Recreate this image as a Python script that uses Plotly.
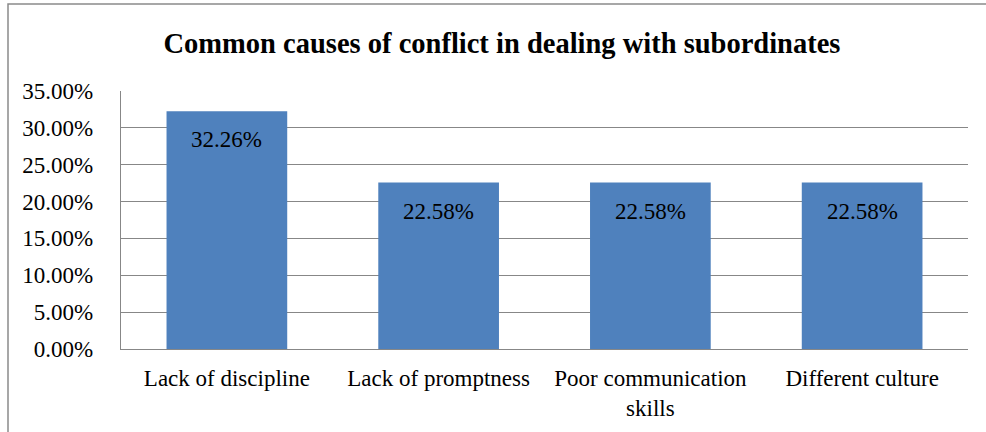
import plotly.graph_objects as go

categories = ["Lack of discipline", "Lack of promptness", "Poor communication<br>skills", "Different culture"]
values = [32.26, 22.58, 22.58, 22.58]
labels = ["32.26%", "22.58%", "22.58%", "22.58%"]
tick_vals = [0, 5, 10, 15, 20, 25, 30, 35]
tick_text = ["0.00%", "5.00%", "10.00%", "15.00%", "20.00%", "25.00%", "30.00%", "35.00%"]

W, H = 986, 432
L, R, T, B = 121, 18, 91, 83
pw, ph = W - L - R, H - T - B

font = "Liberation Serif, Times New Roman, serif"
grid = "#878787"

fig = go.Figure(go.Bar(
    x=categories, y=values, marker=dict(color="#4F81BD", line=dict(width=0)),
    width=0.57, hoverinfo="skip",
))

for c, v, t in zip(categories, values, labels):
    fig.add_annotation(x=c, y=v, text=t, showarrow=False, yanchor="top", yshift=-14,
                       font=dict(family=font, size=23, color="black"))

# outer chart border (left and top edges visible in the frame)
x_left = (8 - L) / pw
x_right = (W + 40 - L) / pw
y_top = (H - B - 4) / ph
y_bot = (H - B - (H + 40)) / ph
fig.add_shape(type="path", xref="paper", yref="paper",
              path=f"M {x_left} {y_bot} L {x_left} {y_top} L {x_right} {y_top}",
              line=dict(color="#8a8a8a", width=1.5), layer="below")

fig.update_layout(
    width=W, height=H, margin=dict(l=L, r=R, t=T, b=B, autoexpand=False),
    paper_bgcolor="white", plot_bgcolor="white",
    showlegend=False,
    title=dict(text="<b>Common causes of conflict in dealing with subordinates</b>",
               x=(502 / W), xanchor="center", y=1 - 43 / H, yanchor="middle",
               font=dict(family=font, size=28.5, color="black")),
    font=dict(family=font, size=23, color="black"),
    bargap=0.43,
)
fig.update_yaxes(range=[0, 35], tickvals=tick_vals, ticktext=tick_text,
                 showgrid=True, gridcolor=grid, gridwidth=1.3,
                 showline=True, linecolor=grid, linewidth=1.3,
                 ticks="", ticklabelstandoff=22, zeroline=False, automargin=False,
                 tickfont=dict(family=font, size=23, color="black"))
fig.update_xaxes(showline=True, linecolor=grid, linewidth=1.3, mirror=False,
                 ticks="", ticklabelstandoff=8, automargin=False,
                 tickfont=dict(family=font, size=23, color="black"))

fig.write_html("out.html", config={"displayModeBar": False},
               post_script="document.body.style.margin='0';document.body.style.overflow='hidden';")
